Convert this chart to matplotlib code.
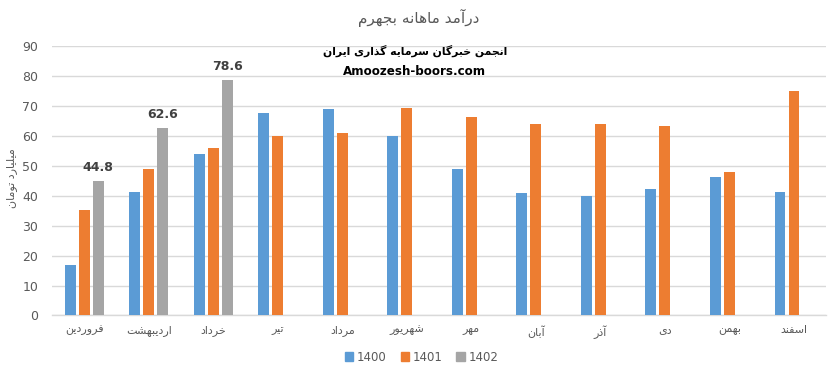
import matplotlib
matplotlib.use("Agg")
import matplotlib.pyplot as plt
import numpy as np
from matplotlib.patches import Patch

months = ["فروردین", "اردیبهشت", "خرداد", "تیر", "مرداد", "شهریور",
          "مهر", "آبان", "آذر", "دی", "بهمن", "اسفند"]
v1400 = [16.8, 41.4, 54.1, 67.8, 69.1, 60.1, 48.8, 40.8, 39.8, 42.1, 46.4, 41.1]
v1401 = [35.1, 49.1, 55.8, 60.0, 61.1, 69.4, 66.4, 64.1, 64.1, 63.4, 48.1, 75.1]
v1402 = [44.8, 62.6, 78.6]
series_names = ["1400", "1401", "1402"]
title_text = "درآمد ماهانه بجهرم"
ylabel_text = "میلیارد تومان"
note_fa = "انجمن خبرگان سرمایه گذاری ایران"
note_en = "Amoozesh-boors.com"

# --- minimal Persian shaping (presentation forms) + RTL reversal ---
FORMS = {
    'ا': ('\uFE8D', '\uFE8E', None, None),
    'آ': ('\uFE81', '\uFE82', None, None),
    'ب': ('\uFE8F', '\uFE90', '\uFE91', '\uFE92'),
    'ت': ('\uFE95', '\uFE96', '\uFE97', '\uFE98'),
    'ج': ('\uFE9D', '\uFE9E', '\uFE9F', '\uFEA0'),
    'خ': ('\uFEA5', '\uFEA6', '\uFEA7', '\uFEA8'),
    'د': ('\uFEA9', '\uFEAA', None, None),
    'ذ': ('\uFEAB', '\uFEAC', None, None),
    'ر': ('\uFEAD', '\uFEAE', None, None),
    'ز': ('\uFEAF', '\uFEB0', None, None),
    'س': ('\uFEB1', '\uFEB2', '\uFEB3', '\uFEB4'),
    'ش': ('\uFEB5', '\uFEB6', '\uFEB7', '\uFEB8'),
    'ف': ('\uFED1', '\uFED2', '\uFED3', '\uFED4'),
    'ل': ('\uFEDD', '\uFEDE', '\uFEDF', '\uFEE0'),
    'م': ('\uFEE1', '\uFEE2', '\uFEE3', '\uFEE4'),
    'ن': ('\uFEE5', '\uFEE6', '\uFEE7', '\uFEE8'),
    'ه': ('\uFEE9', '\uFEEA', '\uFEEB', '\uFEEC'),
    'و': ('\uFEED', '\uFEEE', None, None),
    'ی': ('\uFBFC', '\uFBFD', '\uFBFE', '\uFBFF'),
    'گ': ('\uFB92', '\uFB93', '\uFB94', '\uFB95'),
}


def fa(text):
    out = []
    n = len(text)
    for i, ch in enumerate(text):
        if ch not in FORMS:
            out.append(ch)
            continue
        iso, fin, ini, med = FORMS[ch]
        prev = text[i - 1] if i > 0 else None
        nxt = text[i + 1] if i < n - 1 else None
        join_prev = prev in FORMS and FORMS[prev][2] is not None
        join_next = ini is not None and nxt in FORMS
        if join_prev and join_next:
            out.append(med)
        elif join_prev:
            out.append(fin)
        elif join_next:
            out.append(ini)
        else:
            out.append(iso)
    return ''.join(reversed(out))


plt.rcParams['font.family'] = ['DejaVu Sans']

c1400 = '#5B9BD5'
c1401 = '#ED7D31'
c1402 = '#A5A5A5'
txt_gray = '#595959'

fig = plt.figure(figsize=(8.38, 3.72), dpi=100)
ax = fig.add_axes([0.062, 0.152, 0.924, 0.724])

x = np.arange(len(months))
w = 0.17
off = 0.217
ax.bar(x - off, v1400, width=w, color=c1400, zorder=3)
ax.bar(x, v1401, width=w, color=c1401, zorder=3)
x3 = np.arange(len(v1402))
ax.bar(x3 + off, v1402, width=w, color=c1402, zorder=3)
for xi, v in zip(x3, v1402):
    ax.text(xi + off, v + 2.5, f"{v:.1f}", ha='center', va='bottom',
            fontsize=9, fontweight='bold', color='#404040')

ax.set_xlim(-0.5, len(months) - 0.5)
ax.set_ylim(0, 90)
ax.set_yticks(np.arange(0, 91, 10))
ax.set_xticks(x)
ax.set_xticklabels([fa(m) for m in months], fontsize=8, color=txt_gray)
ax.tick_params(axis='y', labelsize=9, labelcolor=txt_gray, length=0, pad=10)
ax.tick_params(axis='x', length=0, pad=7)
ax.grid(axis='y', color='#D9D9D9', linewidth=1, zorder=0)
for s in ['top', 'right', 'left']:
    ax.spines[s].set_visible(False)
ax.spines['bottom'].set_color('#D9D9D9')
ax.spines['bottom'].set_linewidth(1)

fig.text(0.014, 0.52, fa(ylabel_text), rotation=90, ha='center', va='center',
         fontsize=8, color=txt_gray)
fig.text(0.50, 0.952, fa(title_text), ha='center', va='center',
         fontsize=11, color=txt_gray)
fig.text(0.495, 0.862, fa(note_fa), ha='center', va='center',
         fontsize=7.8, fontweight='bold', color='black')
fig.text(0.495, 0.808, note_en, ha='center', va='center',
         fontsize=8.6, fontweight='bold', color='black')

handles = [Patch(color=c) for c in (c1400, c1401, c1402)]
fig.legend(handles, series_names, loc='center', bbox_to_anchor=(0.503, 0.04),
           ncol=3, frameon=False, fontsize=8.5, handlelength=0.7,
           handleheight=0.7, handletextpad=0.3, columnspacing=1.2,
           labelcolor=txt_gray)

fig.savefig('out.png', dpi=100, facecolor='white')
